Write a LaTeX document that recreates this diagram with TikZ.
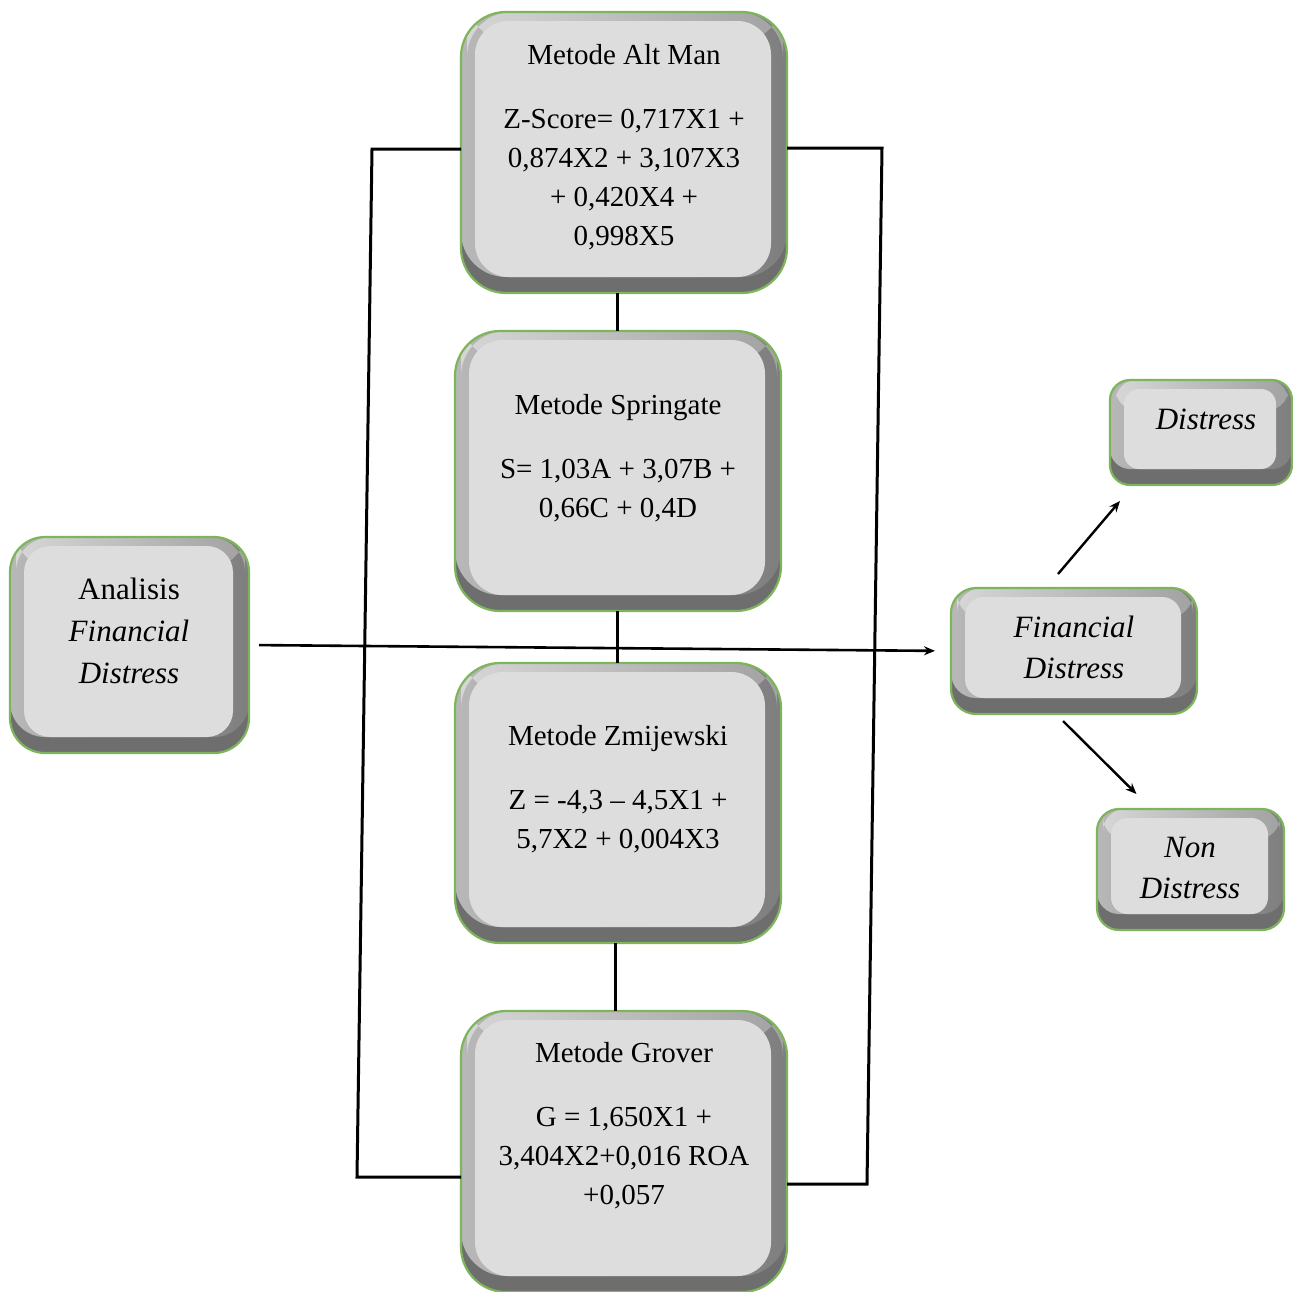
\documentclass[tikz,border=0pt]{standalone}
\usepackage{fontspec}
\setmainfont{Liberation Serif}
\usetikzlibrary{arrows.meta,calc}
\definecolor{bgreen}{HTML}{7DB65A}
\definecolor{bdark}{HTML}{6E6E6E}
\definecolor{bleft}{HTML}{B8B8B8}
\definecolor{bright}{HTML}{7E7E7E}
\definecolor{btopl}{HTML}{D6D6D6}
\definecolor{btopr}{HTML}{A2A2A2}
\definecolor{bface}{HTML}{DEDDDE}
\tikzset{
  boxanchor/.style={inner sep=0pt, outer sep=0pt},
  btext/.style={align=center, inner sep=0pt, font=\fontsize{29}{39}\selectfont},
  ltext/.style={align=center, inner sep=0pt, font=\fontsize{31}{42}\selectfont},
  link/.style={line width=3pt, black},
  arr/.style={line width=2.4pt, black, -{Stealth[length=11pt,width=9pt]}},
}
\newcommand\bevbox[6]{%
  \begin{scope}
    \clip[rounded corners=#6] (#2,#3) rectangle (#4,#5);
    \fill[bdark] (#2,#3) rectangle (#4,#5);
    \shade[left color=bleft, right color=bright, rounded corners=#6] (#2,#3) rectangle (#4,#5-16);
    \shade[left color=btopl, right color=btopr, rounded corners=#6] (#2+6,#3) rectangle (#4-4,#3+30);
    \fill[bface, rounded corners=#6*0.75] (#2+14,#3+9) rectangle (#4-16,#5-16);
  \end{scope}
  \draw[bgreen, line width=2.2pt, rounded corners=#6] (#2,#3) rectangle (#4,#5);
  \node[boxanchor, minimum width={(#4-#2)*1pt}, minimum height={(#5-#3)*1pt}] (#1) at ({(#2+#4)/2},{(#3+#5)/2}) {};
}
\begin{document}
\begin{tikzpicture}[x=1pt,y=-1pt]
\useasboundingbox (0,0) rectangle (1293,1291);
\fill[white] (0,0) rectangle (1293,1291);

% boxes
\bevbox{alt}{461}{12}{787}{293}{45}
\bevbox{spring}{455}{331}{781}{611}{45}
\bevbox{zmij}{455}{663}{781}{943}{45}
\bevbox{grover}{461}{1011}{787}{1292}{45}
\bevbox{analisis}{10}{537}{249}{753}{35}
\bevbox{fd}{951}{588}{1197}{714}{25}
\bevbox{distress}{1110}{380}{1292}{485}{20}
\bevbox{nondistress}{1097}{809}{1284}{930}{22}

% texts
\node[btext] (alt-t) at (624,147) {Metode Alt Man\\[25pt]Z-Score= 0,717X1 +\\0,874X2 + 3,107X3\\+ 0,420X4 +\\0,998X5};
\node[btext] (spring-t) at (618,458) {Metode Springate\\[25pt]S= 1,03A + 3,07B +\\0,66C + 0,4D};
\node[btext] (zmij-t) at (618,789) {Metode Zmijewski\\[25pt]Z = -4,3 – 4,5X1 +\\5,7X2 + 0,004X3};
\node[btext] (grover-t) at (624,1126) {Metode Grover\\[25pt]G = 1,650X1 +\\3,404X2+0,016 ROA\\+0,057};
\node[ltext] (analisis-t) at (129,631) {Analisis\\\textit{Financial}\\\textit{Distress}};
\node[ltext, font=\fontsize{31}{41}\selectfont] (fd-t) at (1074,647) {\textit{Financial}\\\textit{Distress}};
\node[ltext] (distress-t) at (1206,419) {\textit{Distress}};
\node[ltext, font=\fontsize{31}{41}\selectfont] (nondistress-t) at (1190,868) {\textit{Non}\\\textit{Distress}};

% bracket coordinates
\coordinate (lt) at (372,149);
\coordinate (lb) at (357,1177);
\coordinate (rt) at (882,148);
\coordinate (rb) at (867,1184);

% connectors
\draw[link] (alt.west |- lt) -- (lt) -- (lb) -- (grover.west |- lb);
\draw[link] (alt.east |- rt) -- (rt) -- (rb) -- (grover.east |- rb);
\draw[link] (spring.north -| 617,0) -- (alt.south -| 617,0);
\draw[link] (spring.south -| 617,0) -- (zmij.north -| 617,0);
\draw[link] (zmij.south -| 615,0) -- (grover.north -| 615,0);
\draw[line width=2.6pt, -{Stealth[length=11pt,width=9pt]}, shorten <=10pt, shorten >=16pt] (analisis.east) -- (fd.west);
\draw[arr] ($(fd.north)+(-16,-14)$) -- ($(distress.south)+(-81,16)$);
\draw[arr] ($(fd.south)+(-11,7)$) -- ($(nondistress.north)+(-54,-15)$);
\end{tikzpicture}
\end{document}
